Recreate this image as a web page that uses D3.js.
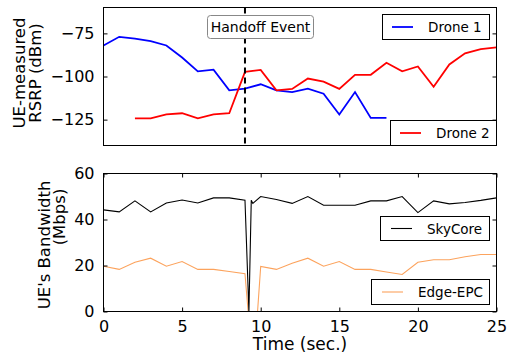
<!DOCTYPE html>
<html>
<head>
<meta charset="utf-8">
<script src="https://cdn.jsdelivr.net/npm/d3@7"></script>
<style>
  body { margin: 0; background: #fff; }
  text { font-family: "DejaVu Sans", sans-serif; fill: #000; }
</style>
</head>
<body>
<div id="chart"></div>
<script>
        // Data
        const time1 = [0, 1, 2, 3, 4, 5, 6, 7, 8, 9, 10, 11, 12, 13, 14, 15, 16, 17, 18];
        const drone1 = [-82, -77, -78, -79.5, -82, -89, -97, -96, -108, -107, -104.5, -108, -109, -107, -110, -122, -109, -124, -124];

        const time2 = [2, 3, 4, 5, 6, 7, 8, 9, 10, 11, 12, 13, 14, 15, 16, 17, 18, 19, 20, 21, 22, 23, 24, 25];
        const drone2 = [-124.3, -124.3, -122, -121.3, -124.3, -122, -121.3, -97.3, -96.2, -108, -107.2, -101.2, -103, -107.2, -99, -99, -92, -97, -94.2, -106, -93, -86.6, -84.1, -83.1];

        const skyTime = [0, 1, 2, 3, 4, 5, 6, 7, 8, 9, 9.25, 9.4, 9.5, 10, 11, 12, 13, 14, 15, 16, 17, 18, 19, 20, 21, 22, 23, 24, 25];
        const skyCore = [44.2, 43.3, 48.1, 43.3, 47.2, 48.5, 47.2, 49.4, 49.4, 48.4, 0, 48.4, 47, 50, 48.7, 47, 50, 46.2, 46.2, 46.2, 48.1, 48.1, 50, 43, 48.1, 46.8, 47.4, 48.3, 49.4];

        const edgeTime = [0, 1, 2, 3, 4, 5, 6, 7, 8, 9, 9.2, 9.8, 10, 11, 12, 13, 14, 15, 16, 17, 18, 19, 20, 21, 22, 23, 24, 25];
        const edgeEpc = [19.7, 18.3, 21.4, 23.2, 19.7, 21.7, 18.3, 18.3, 17.4, 16.4, 0, 0, 19.6, 18.3, 21, 23.2, 19.7, 21.7, 18.3, 18.3, 17.2, 16.1, 21.4, 22.5, 22.5, 23.8, 24.8, 24.8];

        const handoffTime = 9;
        const xTicks = [0, 5, 10, 15, 20, 25];
        const rsrpTicks = [-75, -100, -125];
        const bwTicks = [0, 20, 40, 60];

        // Sizes
        const W = 508, H = 355;
        const left = 103.5, right = 496.5;
        const top1 = 7.5, bot1 = 145.5;
        const top2 = 173.5, bot2 = 311.5;

        const svg = d3.select("#chart")
            .append("svg")
            .attr("width", W)
            .attr("height", H);

        // Scales
        const x = d3.scaleLinear().domain([0, 25]).range([left, right]);
        const y1 = d3.scaleLinear().domain([-140, -60]).range([bot1, top1]);
        const y2 = d3.scaleLinear().domain([0, 60]).range([bot2, top2]);

        const fmt = d => d < 0 ? "\u2212" + Math.abs(d) : String(d);

        // inward ticks on each side of a panel
        function frame(yScale, yTicks, top, bot, showX, showXLabels) {
            const g = svg.append("g");
            const tl = 4;
            g.append("g")
                .attr("transform", `translate(${left},0)`)
                .call(d3.axisLeft(yScale).tickValues(yTicks).tickSizeInner(-tl).tickSizeOuter(0).tickPadding(9).tickFormat(fmt))
                .call(a => a.select(".domain").remove());
            g.append("g")
                .attr("transform", `translate(${right},0)`)
                .call(d3.axisRight(yScale).tickValues(yTicks).tickSizeInner(-tl).tickSizeOuter(0).tickFormat(""))
                .call(a => a.select(".domain").remove());
            if (showX) {
                g.append("g")
                    .attr("transform", `translate(0,${bot})`)
                    .call(d3.axisBottom(x).tickValues(xTicks).tickSizeInner(-tl).tickSizeOuter(0).tickPadding(9)
                        .tickFormat(showXLabels ? d3.format("d") : ""))
                    .call(a => a.select(".domain").remove());
                g.append("g")
                    .attr("transform", `translate(0,${top})`)
                    .call(d3.axisTop(x).tickValues(xTicks).tickSizeInner(-tl).tickSizeOuter(0).tickFormat(""))
                    .call(a => a.select(".domain").remove());
            }
            g.selectAll(".tick line").attr("stroke", "#000").attr("stroke-width", 1);
            g.selectAll(".tick text").style("font-size", "16px").style("font-family", "DejaVu Sans");
            g.append("rect")
                .attr("x", left).attr("y", top)
                .attr("width", right - left).attr("height", bot - top)
                .attr("fill", "none").attr("stroke", "#000").attr("stroke-width", 1);
            return g;
        }

        // Panel 1: RSRP
        const p1 = svg.append("g");
        const line1 = d3.line().x(d => x(d[0])).y(d => y1(d[1]));
        p1.append("path")
            .datum(d3.zip(time1, drone1))
            .attr("d", line1)
            .attr("fill", "none").attr("stroke", "#0000ff").attr("stroke-width", 1.8);
        p1.append("path")
            .datum(d3.zip(time2, drone2))
            .attr("d", line1)
            .attr("fill", "none").attr("stroke", "#ff0000").attr("stroke-width", 1.8);

        p1.append("line")
            .attr("x1", x(handoffTime)).attr("x2", x(handoffTime))
            .attr("y1", top1).attr("y2", bot1)
            .attr("stroke", "#000").attr("stroke-width", 2)
            .attr("stroke-dasharray", "6,4");

        frame(y1, rsrpTicks, top1, bot1, false, false);

        // handoff annotation
        p1.append("rect")
            .attr("x", 207.5).attr("y", 15.5).attr("width", 106).attr("height", 23)
            .attr("rx", 3).attr("fill", "#fff").attr("stroke", "#888").attr("stroke-width", 1);
        p1.append("text")
            .attr("x", 260.5).attr("y", 32)
            .attr("text-anchor", "middle")
            .style("font-size", "14px")
            .text("Handoff Event");

        // Panel 2: bandwidth
        const p2 = svg.append("g");
        const line2 = d3.line().x(d => x(d[0])).y(d => y2(d[1]));
        p2.append("path")
            .datum(d3.zip(edgeTime, edgeEpc))
            .attr("d", line2)
            .attr("fill", "none").attr("stroke", "#fca35d").attr("stroke-width", 1.1);
        p2.append("path")
            .datum(d3.zip(skyTime, skyCore))
            .attr("d", line2)
            .attr("fill", "none").attr("stroke", "#000").attr("stroke-width", 1.1);

        frame(y2, bwTicks, top2, bot2, true, true);

        // Legends
        function legend(bx, by, bw, bh, lx, label, color, sw) {
            const g = svg.append("g");
            g.append("rect")
                .attr("x", bx).attr("y", by).attr("width", bw).attr("height", bh)
                .attr("fill", "#fff").attr("stroke", "#000").attr("stroke-width", 1);
            g.append("line")
                .attr("x1", lx).attr("x2", lx + 21)
                .attr("y1", by + bh / 2).attr("y2", by + bh / 2)
                .attr("stroke", color).attr("stroke-width", sw);
            g.append("text")
                .attr("x", lx + 36).attr("y", by + bh / 2 + 5)
                .style("font-size", "13.5px")
                .text(label);
        }
        legend(382.5, 14.5, 107, 25, 392, "Drone 1", "#0000ff", 1.8);
        legend(390.5, 120.5, 106, 25, 400, "Drone 2", "#ff0000", 1.8);
        legend(380.5, 216.5, 109, 24, 391, "SkyCore", "#000", 1.1);
        legend(371.5, 279.5, 118, 25, 382, "Edge-EPC", "#fca35d", 1.1);

        // Axis titles
        svg.append("text")
            .attr("x", (left + right) / 2).attr("y", 350)
            .attr("text-anchor", "middle")
            .style("font-size", "17px")
            .text("Time (sec.)");

        function yTitle(lines, xs, cys) {
            lines.forEach((t, i) => {
                svg.append("text")
                    .attr("transform", `translate(${xs[i]},${cys[i]}) rotate(-90)`)
                    .attr("text-anchor", "middle")
                    .style("font-size", "16.5px")
                    .text(t);
            });
        }
        yTitle(["UE-measured", "RSRP (dBm)"], [25, 40.5], [73, 73]);
        yTitle(["UE's Bandwidth", "(Mbps)"], [50, 64.5], [245, 217]);
</script>
</body>
</html>
